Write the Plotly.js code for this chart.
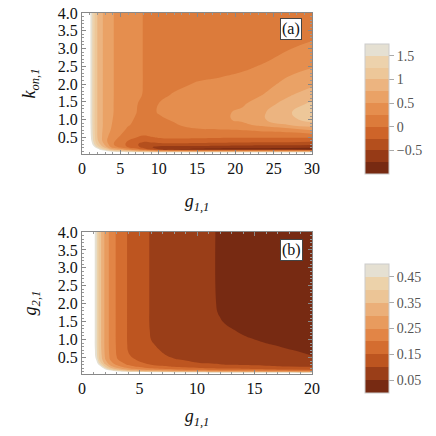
<!DOCTYPE html>
<html><head><meta charset="utf-8">
<script src="https://cdn.plot.ly/plotly-3.0.1.min.js"></script>
<style>html,body{margin:0;padding:0;background:#fff}#plot{width:436px;height:436px}</style>
</head><body><div id="plot"></div>
<script>
// ---- Panel (a): g_{1,1} (x) vs k_{on,1} (y) ----
const gA = [0, 1, 1.5, 2, 3, 4, 5, 6, 7, 8, 9, 10, 12, 15, 18, 21, 24, 27, 30];
const kA = [0.03, 0.1, 0.16, 0.22, 0.3, 0.4, 0.55, 0.7, 0.85, 1.0, 1.2, 1.45, 1.7, 2.0, 2.5, 3.0, 3.5, 4.0];
const zA = [
  [3, 3, 3, 3, 3, 3, 3, 3, 3, 3, 3, 3, 3, 3, 3, 3, 3, 3, 3],
  [3, 3, 2.8, 2.5, 2.0, 1.6, 1.45, 1.3, 1.15, 1.0, 0.9, 0.8, 0.8, 0.8, 0.8, 0.8, 0.8, 0.8, 0.8],
  [3, 2.6, 2.3, 1.9, 1.3, 0.8, 0.6, 0.4, 0.15, -0.1, -0.32, -0.5, -0.76, -0.82, -0.85, -0.86, -0.87, -0.88, -0.9],
  [3, 2.4, 1.9, 1.5, 0.9, 0.4, 0.2, 0.0, -0.15, -0.32, -0.48, -0.58, -0.62, -0.6, -0.62, -0.64, -0.66, -0.68, -0.7],
  [3, 2.2, 1.6, 1.2, 0.7, 0.28, 0.1, -0.05, -0.2, -0.35, -0.36, -0.35, -0.33, -0.36, -0.38, -0.4, -0.42, -0.43, -0.45],
  [3, 2.0, 1.45, 1.05, 0.58, 0.3, 0.15, 0.0, -0.1, -0.2, -0.15, -0.1, -0.08, -0.1, -0.12, -0.13, -0.14, -0.15, -0.18],
  [3, 1.9, 1.4, 1.0, 0.6, 0.38, 0.25, 0.12, 0.07, 0.0, 0.04, 0.08, 0.1, 0.1, 0.1, 0.1, 0.1, 0.1, 0.12],
  [3, 1.88, 1.37, 1.0, 0.63, 0.45, 0.32, 0.2, 0.15, 0.08, 0.12, 0.16, 0.18, 0.22, 0.23, 0.25, 0.3, 0.35, 0.5],
  [3, 1.86, 1.36, 1.0, 0.65, 0.48, 0.37, 0.27, 0.2, 0.12, 0.16, 0.19, 0.23, 0.32, 0.38, 0.45, 0.58, 0.75, 0.88],
  [3, 1.85, 1.35, 1.0, 0.65, 0.5, 0.4, 0.3, 0.23, 0.15, 0.19, 0.22, 0.27, 0.36, 0.45, 0.55, 0.75, 0.93, 1.1],
  [3, 1.85, 1.35, 1.0, 0.65, 0.51, 0.42, 0.33, 0.26, 0.18, 0.22, 0.26, 0.3, 0.36, 0.45, 0.55, 0.75, 0.97, 1.2],
  [3, 1.85, 1.35, 1.0, 0.65, 0.51, 0.43, 0.35, 0.27, 0.2, 0.225, 0.25, 0.28, 0.33, 0.4, 0.47, 0.66, 0.85, 1.05],
  [3, 1.85, 1.35, 1.0, 0.65, 0.51, 0.44, 0.36, 0.3, 0.24, 0.22, 0.22, 0.26, 0.29, 0.33, 0.38, 0.52, 0.72, 0.88],
  [3, 1.85, 1.35, 1.0, 0.65, 0.51, 0.44, 0.37, 0.31, 0.245, 0.21, 0.19, 0.22, 0.26, 0.28, 0.32, 0.43, 0.58, 0.7],
  [3, 1.85, 1.35, 1.0, 0.65, 0.51, 0.44, 0.37, 0.31, 0.245, 0.2, 0.15, 0.17, 0.19, 0.2, 0.22, 0.27, 0.4, 0.48],
  [3, 1.85, 1.35, 1.0, 0.65, 0.51, 0.44, 0.37, 0.31, 0.245, 0.18, 0.12, 0.12, 0.13, 0.14, 0.15, 0.18, 0.24, 0.3],
  [3, 1.85, 1.35, 1.0, 0.65, 0.51, 0.44, 0.37, 0.31, 0.245, 0.16, 0.09, 0.08, 0.09, 0.1, 0.1, 0.12, 0.15, 0.18],
  [3, 1.85, 1.35, 1.0, 0.65, 0.51, 0.44, 0.37, 0.31, 0.245, 0.15, 0.07, 0.05, 0.05, 0.06, 0.06, 0.07, 0.08, 0.1]
];
// ---- Panel (b): g_{1,1} (x) vs g_{2,1} (y) ----
const gB = [0, 1, 1.25, 1.5, 2, 2.5, 3, 4, 5, 6, 7, 8, 9, 10, 11, 12, 13, 14, 16, 18, 20];
const g2B = [0.04, 0.07, 0.1, 0.13, 0.16, 0.2, 0.25, 0.3, 0.35, 0.45, 0.55, 0.7, 0.85, 1.0, 1.25, 1.5, 1.75, 2.0, 4.0];
const zB = [
  [1, 1, 1, 1, 1, 1, 1, 1, 1, 1, 1, 1, 1, 1, 1, 1, 1, 1, 1, 1, 1],
  [1, 1, 1, 1, 1, 1, 1, 0.8, 0.7, 0.65, 0.62, 0.6, 0.58, 0.57, 0.56, 0.55, 0.54, 0.53, 0.52, 0.51, 0.51],
  [1, 1, 1, 0.9, 0.72, 0.62, 0.55, 0.47, 0.43, 0.41, 0.39, 0.37, 0.36, 0.35, 0.34, 0.33, 0.325, 0.32, 0.31, 0.3, 0.29],
  [1, 0.95, 0.88, 0.8, 0.6, 0.52, 0.45, 0.37, 0.33, 0.305, 0.285, 0.268, 0.255, 0.245, 0.237, 0.23, 0.225, 0.22, 0.212, 0.205, 0.2],
  [1, 0.9, 0.8, 0.7, 0.52, 0.43, 0.37, 0.3, 0.265, 0.245, 0.228, 0.213, 0.2, 0.192, 0.185, 0.179, 0.174, 0.17, 0.161, 0.155, 0.15],
  [1, 0.8, 0.7, 0.6, 0.46, 0.36, 0.31, 0.255, 0.225, 0.2, 0.185, 0.174, 0.165, 0.157, 0.15, 0.146, 0.142, 0.138, 0.132, 0.127, 0.122],
  [1, 0.72, 0.63, 0.54, 0.4, 0.315, 0.27, 0.215, 0.19, 0.172, 0.156, 0.146, 0.138, 0.132, 0.127, 0.122, 0.118, 0.114, 0.107, 0.1, 0.095],
  [1, 0.65, 0.57, 0.48, 0.36, 0.283, 0.245, 0.195, 0.168, 0.15, 0.138, 0.128, 0.12, 0.113, 0.108, 0.103, 0.098, 0.096, 0.092, 0.089, 0.086],
  [1, 0.6, 0.53, 0.44, 0.33, 0.265, 0.225, 0.183, 0.155, 0.142, 0.131, 0.121, 0.111, 0.101, 0.097, 0.093, 0.089, 0.086, 0.081, 0.077, 0.074],
  [1, 0.56, 0.49, 0.4, 0.303, 0.24, 0.205, 0.163, 0.142, 0.127, 0.114, 0.102, 0.095, 0.089, 0.084, 0.079, 0.075, 0.071, 0.065, 0.061, 0.058],
  [1, 0.54, 0.47, 0.39, 0.296, 0.235, 0.2, 0.155, 0.132, 0.117, 0.104, 0.094, 0.087, 0.081, 0.076, 0.071, 0.067, 0.064, 0.058, 0.054, 0.05],
  [1, 0.535, 0.465, 0.383, 0.292, 0.231, 0.197, 0.149, 0.125, 0.11, 0.097, 0.088, 0.081, 0.075, 0.07, 0.066, 0.063, 0.06, 0.055, 0.0505, 0.048],
  [1, 0.53, 0.46, 0.38, 0.29, 0.23, 0.196, 0.147, 0.121, 0.104, 0.092, 0.082, 0.075, 0.07, 0.065, 0.062, 0.059, 0.056, 0.051, 0.048, 0.046],
  [1, 0.53, 0.46, 0.38, 0.29, 0.23, 0.195, 0.146, 0.118, 0.1, 0.088, 0.078, 0.071, 0.066, 0.061, 0.058, 0.055, 0.052, 0.048, 0.045, 0.042],
  [1, 0.53, 0.46, 0.38, 0.29, 0.23, 0.195, 0.146, 0.117, 0.098, 0.085, 0.075, 0.068, 0.062, 0.058, 0.054, 0.051, 0.048, 0.043, 0.039, 0.036],
  [1, 0.53, 0.46, 0.38, 0.29, 0.23, 0.195, 0.146, 0.117, 0.097, 0.084, 0.074, 0.066, 0.06, 0.056, 0.051, 0.047, 0.045, 0.04, 0.036, 0.033],
  [1, 0.53, 0.46, 0.38, 0.29, 0.23, 0.195, 0.146, 0.117, 0.097, 0.083, 0.073, 0.065, 0.059, 0.054, 0.049, 0.046, 0.043, 0.038, 0.034, 0.031],
  [1, 0.53, 0.46, 0.38, 0.29, 0.23, 0.195, 0.146, 0.117, 0.097, 0.083, 0.073, 0.065, 0.058, 0.053, 0.0485, 0.045, 0.042, 0.037, 0.033, 0.03],
  [1, 0.53, 0.46, 0.38, 0.29, 0.23, 0.195, 0.146, 0.117, 0.097, 0.083, 0.073, 0.065, 0.058, 0.053, 0.048, 0.045, 0.042, 0.036, 0.032, 0.029]
];
// tick values / labels
const xTicksA = [0, 5, 10, 15, 20, 25, 30];
const xTicksB = [0, 5, 10, 15, 20];
const yTicks = [0.5, 1.0, 1.5, 2.0, 2.5, 3.0, 3.5, 4.0];
const yTickText = ['0.5', '1.0', '1.5', '2.0', '2.5', '3.0', '3.5', '4.0'];
const cbTicksA = [-0.5, 0, 0.5, 1, 1.5];
const cbTicksB = [0.05, 0.15, 0.25, 0.35, 0.45];

const colsA = ['#772A12','#963A16','#B44F1D','#CE6429','#DC7B3B','#E58E4E','#EAA266','#ECB480','#EDC799','#EDD2AC','#E5E0D2'];
const colsB = ['#772A12','#9A3E18','#BD5520','#D46D30','#E28546','#E89B5E','#EBAF79','#ECC596','#ECD2AA','#E5E0D2'];
const scale = cols => cols.map((c, i) => [i / (cols.length - 1), c]);

const FONT = 'Liberation Serif, Times New Roman, serif';
const cbBase = {
  thickness: 24, thicknessmode: 'pixels', len: 130, lenmode: 'pixels',
  xanchor: 'left', yanchor: 'middle', xpad: 0, ypad: 0,
  outlinewidth: 1, outlinecolor: '#cccccc',
  ticks: 'outside', ticklen: 5, tickwidth: 1, tickcolor: '#aaaaaa',
  tickmode: 'array',
  tickfont: {family: FONT, size: 14, color: '#555555'}
};

const traces = [
  {type: 'contour', x: gA, y: kA, z: zA, xaxis: 'x', yaxis: 'y',
   zauto: false, zmin: -1, zmax: 1.75,
   contours: {coloring: 'fill', showlines: false, start: -0.75, end: 1.5, size: 0.25},
   line: {width: 0, smoothing: 1.3},
   colorscale: scale(colsA), hoverinfo: 'skip',
   colorbar: Object.assign({}, cbBase, {x: 1.2304, y: 0.734, tickvals: cbTicksA,
     ticktext: cbTicksA.map(v => v < 0 ? '\u2212' + Math.abs(v) : String(v))})},
  {type: 'contour', x: gA, y: kA, z: zA, xaxis: 'x', yaxis: 'y', showscale: false,
   contours: {type: 'constraint', operation: '<', value: 1.75},
   fillcolor: 'white', line: {width: 0, smoothing: 1.3}, hoverinfo: 'skip', showlegend: false},
  {type: 'contour', x: gB, y: g2B, z: zB, xaxis: 'x2', yaxis: 'y2',
   zauto: false, zmin: 0, zmax: 0.5,
   contours: {coloring: 'fill', showlines: false, start: 0.05, end: 0.45, size: 0.05},
   line: {width: 0, smoothing: 1.3},
   colorscale: scale(colsB), hoverinfo: 'skip',
   colorbar: Object.assign({}, cbBase, {x: 1.2304, y: 0.126, len: 129, tickvals: cbTicksB,
     ticktext: cbTicksB.map(v => String(v))})},
  {type: 'contour', x: gB, y: g2B, z: zB, xaxis: 'x2', yaxis: 'y2', showscale: false,
   contours: {type: 'constraint', operation: '<', value: 0.5},
   fillcolor: 'white', line: {width: 0, smoothing: 1.3}, hoverinfo: 'skip', showlegend: false}
];

const axBase = {
  showgrid: false, zeroline: false, showline: true, linecolor: '#888888', linewidth: 1,
  mirror: 'ticks', ticks: 'inside', ticklen: 4, tickcolor: '#888888', tickmode: 'array',
  tickfont: {family: FONT, size: 16, color: '#111111'},
  minor: {ticks: 'inside', ticklen: 2, tickcolor: '#999999', showgrid: false}
};
const titleFont = {family: FONT, size: 18, color: '#111111'};

const layout = {
  width: 436, height: 436,
  margin: {l: 82, r: 124, t: 13, b: 62},
  paper_bgcolor: 'white', plot_bgcolor: 'white',
  showlegend: false,
  font: {family: FONT},
  xaxis: Object.assign({}, axBase, {anchor: 'y', domain: [0, 1], range: [0, 30], tickvals: xTicksA,
    minor: Object.assign({}, axBase.minor, {dtick: 1, tick0: 0}),
    title: {text: '<i>g<sub>1,1</sub></i>', font: titleFont, standoff: 18}}),
  yaxis: Object.assign({}, axBase, {anchor: 'x', domain: [0.6094, 1], range: [0.03, 4], tickvals: yTicks, ticktext: yTickText,
    minor: Object.assign({}, axBase.minor, {dtick: 0.1, tick0: 0}),
    title: {text: '<i>k<sub>on,1</sub></i>', font: titleFont, standoff: 17}}),
  xaxis2: Object.assign({}, axBase, {anchor: 'y2', domain: [0, 1], range: [0, 20], tickvals: xTicksB,
    minor: Object.assign({}, axBase.minor, {dtick: 1, tick0: 0}),
    title: {text: '<i>g<sub>1,1</sub></i>', font: titleFont, standoff: 13}}),
  yaxis2: Object.assign({}, axBase, {anchor: 'x2', domain: [0, 0.3934], range: [0.04, 4], tickvals: yTicks, ticktext: yTickText,
    minor: Object.assign({}, axBase.minor, {dtick: 0.1, tick0: 0}),
    title: {text: '<i>g<sub>2,1</sub></i>', font: titleFont, standoff: 16}}),
  annotations: [
    {text: '(a)', xref: 'paper', yref: 'paper', x: 0.9087, y: 0.9543, xanchor: 'center', yanchor: 'middle', showarrow: false,
     font: {family: FONT, size: 16, color: '#111'}, bgcolor: 'white', bordercolor: '#444', borderwidth: 1, borderpad: 1},
    {text: '(b)', xref: 'paper', yref: 'paper', x: 0.9087, y: 0.3435, xanchor: 'center', yanchor: 'middle', showarrow: false,
     font: {family: FONT, size: 16, color: '#111'}, bgcolor: 'white', bordercolor: '#444', borderwidth: 1, borderpad: 1}
  ]
};

Plotly.newPlot('plot', traces, layout, {displayModeBar: false, staticPlot: true});
</script></body></html>
